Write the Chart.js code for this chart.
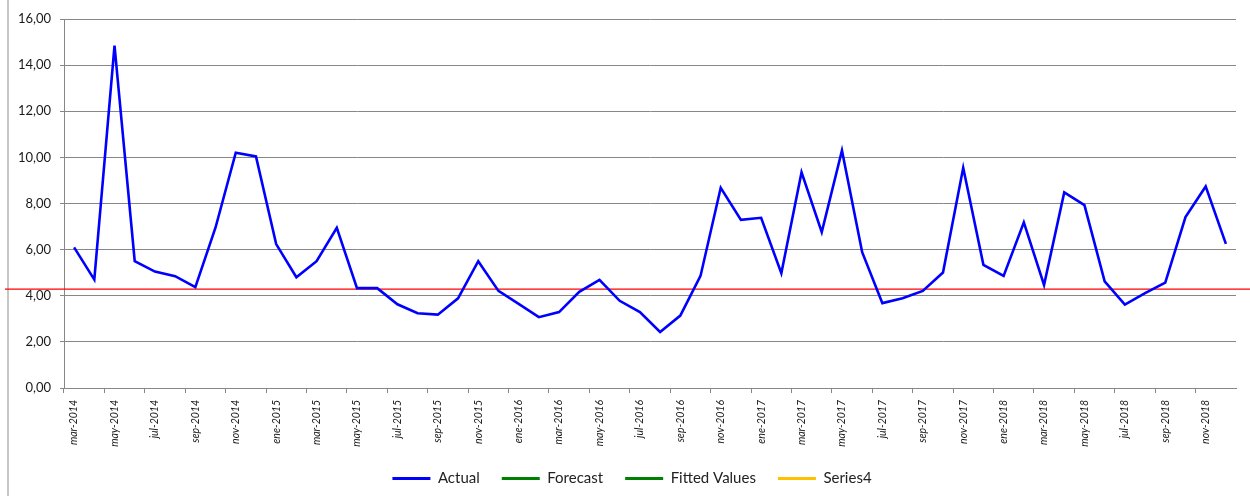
<!DOCTYPE html>
<html>
<head>
<meta charset="utf-8">
<title>Actual</title>
<script src="https://cdn.jsdelivr.net/npm/chart.js@4/dist/chart.umd.min.js"></script>
<style>
    html, body { margin: 0; padding: 0; background: #fff; }
    canvas { display: block; }
</style>
</head>
<body>
<canvas id="chart" width="1250" height="496"></canvas>
<script>
// Monthly categories, mar-2014 .. dic-2018
const months = [
    'mar-2014', 'abr-2014', 'may-2014', 'jun-2014', 'jul-2014', 'ago-2014', 'sep-2014', 'oct-2014', 'nov-2014', 'dic-2014',
    'ene-2015', 'feb-2015', 'mar-2015', 'abr-2015', 'may-2015', 'jun-2015', 'jul-2015', 'ago-2015', 'sep-2015', 'oct-2015', 'nov-2015', 'dic-2015',
    'ene-2016', 'feb-2016', 'mar-2016', 'abr-2016', 'may-2016', 'jun-2016', 'jul-2016', 'ago-2016', 'sep-2016', 'oct-2016', 'nov-2016', 'dic-2016',
    'ene-2017', 'feb-2017', 'mar-2017', 'abr-2017', 'may-2017', 'jun-2017', 'jul-2017', 'ago-2017', 'sep-2017', 'oct-2017', 'nov-2017', 'dic-2017',
    'ene-2018', 'feb-2018', 'mar-2018', 'abr-2018', 'may-2018', 'jun-2018', 'jul-2018', 'ago-2018', 'sep-2018', 'oct-2018', 'nov-2018', 'dic-2018'
];

const actual = [
    6.10, 4.70, 14.85, 5.50, 5.05, 4.85, 4.37, 6.96, 10.20, 10.04,
    6.24, 4.80, 5.50, 6.95, 4.33, 4.33, 3.63, 3.24, 3.18, 3.89, 5.50, 4.21,
    3.65, 3.07, 3.29, 4.17, 4.69, 3.78, 3.29, 2.43, 3.14, 4.86, 8.68, 7.29,
    7.38, 4.98, 9.35, 6.76, 10.30, 5.89, 3.68, 3.89, 4.21, 5.01, 9.55, 5.34,
    4.86, 7.18, 4.47, 8.48, 7.93, 4.62, 3.62, 4.11, 4.57, 7.41, 8.74, 6.25
];

// Empty series that only appear in the legend
const forecast = [];
const fittedValues = [];
const series4 = [];

// Reference level drawn as the red horizontal rule
const referenceLevel = [4.29];

const yTicks = [0, 2, 4, 6, 8, 10, 12, 14, 16];

const FONT = 'Lato, "Open Sans", sans-serif';
const GRID = '#878787';

const frameAndRule = {
    id: 'frameAndRule',
    afterLayout(chart) {
        // legend sits a little right of the canvas centre
        chart.legend.left += 14;
        chart.legend.right += 14;
    },
    beforeDraw(chart) {
        const ctx = chart.ctx;
        ctx.save();
        ctx.fillStyle = '#c6c6c6';
        ctx.fillRect(7, 0, 2, chart.height);
        ctx.restore();
    },
    beforeDatasetsDraw(chart) {
        const ctx = chart.ctx;
        const y = chart.scales.y.getPixelForValue(referenceLevel[0]);
        ctx.save();
        ctx.strokeStyle = '#ff0000';
        ctx.lineWidth = 1.3;
        ctx.beginPath();
        ctx.moveTo(5, y);
        ctx.lineTo(chart.width, y);
        ctx.stroke();
        ctx.restore();
    }
};

const lineDataset = (label, data, color) => ({
    label,
    data,
    borderColor: color,
    backgroundColor: color,
    borderWidth: 2.6,
    pointRadius: 0,
    tension: 0,
    fill: false
});

new Chart(document.getElementById('chart'), {
    type: 'line',
    data: {
        labels: months,
        datasets: [
            lineDataset('Actual', actual, '#0000ff'),
            lineDataset('Forecast', forecast, '#008000'),
            lineDataset('Fitted Values', fittedValues, '#008000'),
            lineDataset('Series4', series4, '#ffc000')
        ]
    },
    options: {
        responsive: false,
        animation: false,
        layout: { padding: { left: 0, right: 14, top: 19, bottom: 0 } },
        plugins: {
            tooltip: { enabled: false },
            legend: {
                position: 'bottom',
                labels: {
                    color: '#222',
                    font: { family: FONT, size: 15 },
                    boxWidth: 38,
                    boxHeight: 3,
                    padding: 22,
                    generateLabels(chart) {
                        const items = Chart.defaults.plugins.legend.labels.generateLabels(chart);
                        items.forEach(item => { item.lineWidth = 0; });
                        return items;
                    }
                }
            }
        },
        scales: {
            x: {
                type: 'category',
                offset: true,
                grid: {
                    offset: true,
                    drawOnChartArea: false,
                    drawTicks: true,
                    tickLength: 5,
                    tickColor: ctx => (ctx.index % 2 === 0 ? GRID : 'rgba(0,0,0,0)')
                },
                border: { color: GRID, width: 1 },
                ticks: {
                    autoSkip: false,
                    maxRotation: 90,
                    minRotation: 90,
                    padding: 7,
                    color: '#1a1a1a',
                    font: { family: FONT, size: 10.5, style: 'italic' },
                    callback(value, index) {
                        return index % 2 === 0 ? this.getLabelForValue(value) : '';
                    }
                },
                afterFit(scale) { scale.height = 61; }
            },
            y: {
                min: yTicks[0],
                max: yTicks[yTicks.length - 1],
                afterBuildTicks(scale) {
                    scale.ticks = yTicks.map(v => ({ value: v }));
                },
                grid: {
                    color: GRID,
                    lineWidth: 1,
                    drawTicks: true,
                    tickLength: 4,
                    tickColor: GRID
                },
                border: { color: GRID, width: 1 },
                ticks: {
                    padding: 9,
                    color: '#1a1a1a',
                    font: { family: FONT, size: 13 },
                    callback: v => v.toFixed(2).replace('.', ',')
                },
                afterFit(scale) { scale.width = 64; }
            }
        }
    },
    plugins: [frameAndRule]
});
</script>
</body>
</html>
